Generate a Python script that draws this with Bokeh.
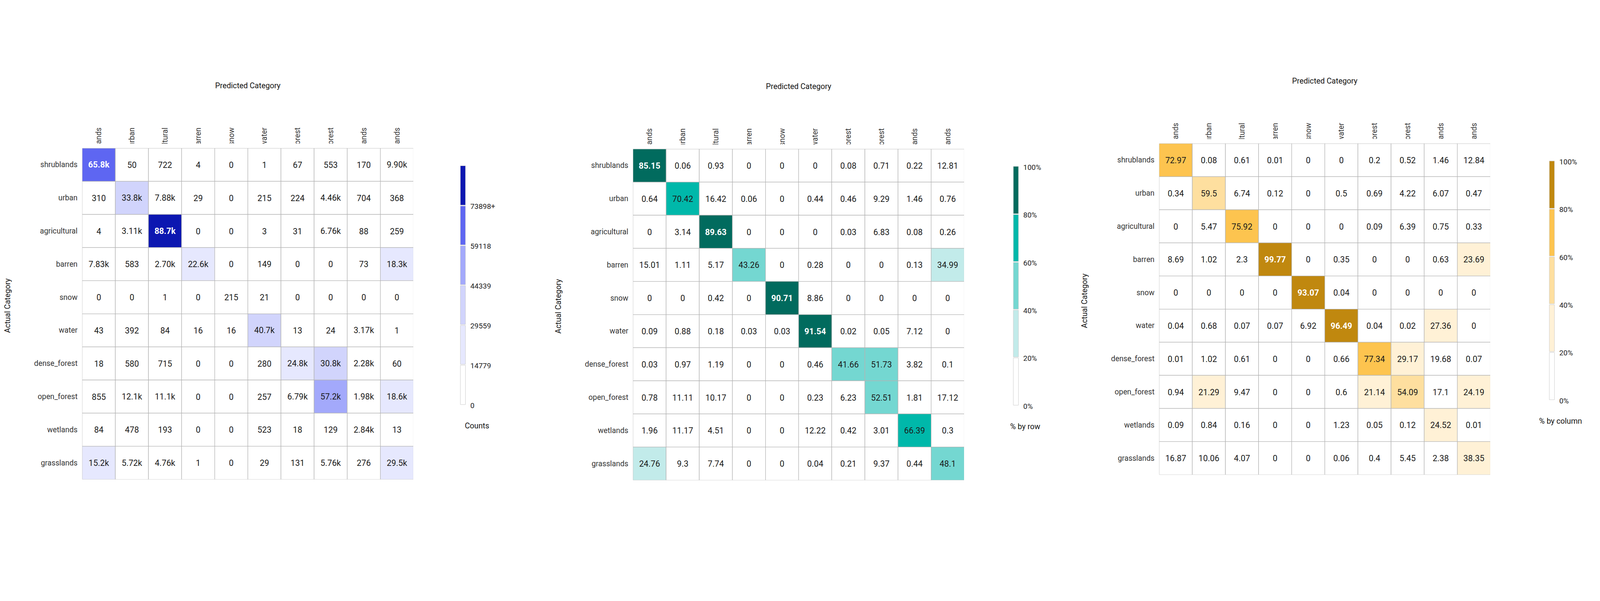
import numpy as np
from bokeh.plotting import figure
from bokeh.models import ColumnDataSource, FactorRange, Range1d
from bokeh.layouts import row, column
from bokeh.transform import linear_cmap
from bokeh.core.properties import value
from bokeh.embed import file_html
from bokeh.resources import INLINE

# ---------------- data ----------------
categories = ["shrublands", "urban", "agricultural", "barren", "snow", "water",
              "dense_forest", "open_forest", "wetlands", "grasslands"]

counts = [
    [65800, 50, 722, 4, 0, 1, 67, 553, 170, 9900],
    [310, 33800, 7880, 29, 0, 215, 224, 4460, 704, 368],
    [4, 3110, 88678, 0, 0, 3, 31, 6760, 88, 259],
    [7830, 583, 2700, 22600, 0, 149, 0, 0, 73, 18300],
    [0, 0, 1, 0, 215, 21, 0, 0, 0, 0],
    [43, 392, 84, 16, 16, 40700, 13, 24, 3170, 1],
    [18, 580, 715, 0, 0, 280, 24800, 30800, 2280, 60],
    [855, 12100, 11100, 0, 0, 257, 6790, 57200, 1980, 18600],
    [84, 478, 193, 0, 0, 523, 18, 129, 2840, 13],
    [15200, 5720, 4760, 1, 0, 29, 131, 5760, 276, 29500],
]

row_pct = [
    [85.15, 0.06, 0.93, 0, 0, 0, 0.08, 0.71, 0.22, 12.81],
    [0.64, 70.42, 16.42, 0.06, 0, 0.44, 0.46, 9.29, 1.46, 0.76],
    [0, 3.14, 89.63, 0, 0, 0, 0.03, 6.83, 0.08, 0.26],
    [15.01, 1.11, 5.17, 43.26, 0, 0.28, 0, 0, 0.13, 34.99],
    [0, 0, 0.42, 0, 90.71, 8.86, 0, 0, 0, 0],
    [0.09, 0.88, 0.18, 0.03, 0.03, 91.54, 0.02, 0.05, 7.12, 0],
    [0.03, 0.97, 1.19, 0, 0, 0.46, 41.66, 51.73, 3.82, 0.1],
    [0.78, 11.11, 10.17, 0, 0, 0.23, 6.23, 52.51, 1.81, 17.12],
    [1.96, 11.17, 4.51, 0, 0, 12.22, 0.42, 3.01, 66.39, 0.3],
    [24.76, 9.3, 7.74, 0, 0, 0.04, 0.21, 9.37, 0.44, 48.1],
]

col_pct = [
    [72.97, 0.08, 0.61, 0.01, 0, 0, 0.2, 0.52, 1.46, 12.84],
    [0.34, 59.5, 6.74, 0.12, 0, 0.5, 0.69, 4.22, 6.07, 0.47],
    [0, 5.47, 75.92, 0, 0, 0, 0.09, 6.39, 0.75, 0.33],
    [8.69, 1.02, 2.3, 99.77, 0, 0.35, 0, 0, 0.63, 23.69],
    [0, 0, 0, 0, 93.07, 0.04, 0, 0, 0, 0],
    [0.04, 0.68, 0.07, 0.07, 6.92, 96.49, 0.04, 0.02, 27.36, 0],
    [0.01, 1.02, 0.61, 0, 0, 0.66, 77.34, 29.17, 19.68, 0.07],
    [0.94, 21.29, 9.47, 0, 0, 0.6, 21.14, 54.09, 17.1, 24.19],
    [0.09, 0.84, 0.16, 0, 0, 1.23, 0.05, 0.12, 24.52, 0.01],
    [16.87, 10.06, 4.07, 0, 0, 0.06, 0.4, 5.45, 2.38, 38.35],
]

counts_palette = ["#ffffff", "#e6e8fe", "#d1d4fc", "#a3a9fb", "#5e66f2", "#0c17b1"]
row_palette = ["#ffffff", "#c2ebea", "#74d7d1", "#00b8aa", "#016b5e"]
col_palette = ["#ffffff", "#fff1d6", "#fedf9f", "#fdc44f", "#c0880f"]

counts_title = "Counts"
row_title = "% by row"
col_title = "% by column"

FONT = "Roboto"
Z = 1.22                      # photographed pixels per CSS pixel


def cz(v):
    return v / Z


S = round(cz(1034))           # grid size (CSS px)
BL = round(cz(200))           # room for row labels
LW = round(cz(58))            # width of the "Actual Category" strip
PAGE_RIGHT = int(5002 / Z) - 8

F_CELL = f"{cz(26):.1f}px"
F_LAB = f"{cz(23.5):.1f}px"
F_TITLE = f"{cz(24):.1f}px"
F_CB = f"{cz(23):.1f}px"


def fmt_count(v):
    if v >= 1000:
        return f"{v / 1000:#.3g}k"
    return str(int(v))


def fmt_pct(v):
    return f"{round(v, 2):g}"


def base_fig(**kw):
    f = figure(toolbar_location=None, output_backend="svg", min_border=0,
               x_axis_location=None, y_axis_location=None,
               outline_line_color=None, background_fill_color="white",
               border_fill_color="white", **kw)
    f.grid.visible = False
    return f


def make_chart(matrix, fmt, palette, n_white, high, cb_labels, cb_title,
               Lp, Tp, start, end, cb_title_xp, bar_left_p):
    n = len(palette)
    gl = round(cz(Lp))
    gt = round(cz(Tp))
    hdr_h = gt - 8
    bot = round(cz(20))
    main_h = S + bot
    H = hdr_h + main_h
    col_w = BL + S
    lab_w = gl - BL - start

    # --- left strip ("Actual Category")
    lf = base_fig(width=lab_w, height=H, x_range=Range1d(0, lab_w), y_range=Range1d(0, H))
    lf.text(x=[cz(Lp - 233) - start], y=[H - (cz(Tp + 492) - 8)], text=["Actual Category"],
            angle=np.pi / 2, text_align="center", text_baseline="middle",
            text_font_size=F_TITLE, text_font=value(FONT), text_color="#111111")

    xr = FactorRange(factors=list(categories))

    # --- header with clipped column labels
    clip = round(cz(15))
    hf = base_fig(width=col_w, height=hdr_h, x_range=xr, y_range=Range1d(0, hdr_h - clip))
    hf.min_border_left = BL
    hf.min_border_bottom = clip
    hf.text(x=categories, y=[cz(50)] * len(categories), text=categories, angle=np.pi / 2,
            text_align="right", text_baseline="middle", text_font_size=F_LAB,
            text_font=value(FONT), text_color="#333333")
    hf.text(x=[len(categories) / 2], y=[cz(181)], text=["Predicted Category"],
            text_align="center", text_baseline="middle", text_font_size=F_TITLE,
            text_font=value(FONT), text_color="#111111")

    # --- main matrix
    xs, ys, vs, labels, styles = [], [], [], [], []
    for i, a in enumerate(categories):
        for j, p in enumerate(categories):
            v = matrix[i][j]
            xs.append(p)
            ys.append(a)
            vs.append(v)
            labels.append(fmt(v))
            b = min(int(v / high * n), n - 1)
            styles.append("bold" if b >= n - n_white else "normal")
    src = ColumnDataSource(dict(x=xs, y=ys, v=vs, label=labels, style=styles))

    mf = figure(width=col_w, height=main_h, x_range=xr,
                y_range=FactorRange(factors=list(reversed(categories))),
                toolbar_location=None, output_backend="svg", min_border=0,
                x_axis_location=None, y_axis_location="left",
                outline_line_color=None, background_fill_color="white",
                border_fill_color="white")
    mf.min_border_left = BL
    mf.min_border_bottom = bot
    mf.grid.visible = False
    ax = mf.yaxis[0]
    ax.axis_line_color = None
    ax.major_tick_line_color = None
    ax.minor_tick_line_color = None
    ax.major_tick_out = 0
    ax.major_tick_in = 0
    ax.major_label_standoff = round(cz(15))
    ax.major_label_text_font = FONT
    ax.major_label_text_font_size = F_LAB
    ax.major_label_text_color = "#333333"

    mf.rect(x="x", y="y", width=1, height=1, source=src,
            fill_color=linear_cmap("v", palette, 0, high),
            line_color="#b4b4b4", line_width=1.25)
    text_pal = ["#1b1b1b"] * (n - n_white) + ["#ffffff"] * n_white
    mf.text(x="x", y="y", text="label", source=src, text_align="center",
            text_baseline="middle", text_font_size=F_CELL, text_font=value(FONT),
            text_color=linear_cmap("v", text_pal, 0, high), text_font_style="style")

    # --- colour bar strip
    x0 = gl + S
    cbw = end - x0
    Bt, Bb = cz(Tp + 55), cz(Tp + 801)
    vpp = high / (Bb - Bt)
    y0 = -((8 + H) - Bb) * vpp
    y1 = high + (Bt - 8) * vpp
    cf = base_fig(width=cbw, height=H, x_range=Range1d(x0, end), y_range=Range1d(y0, y1))
    edges = np.linspace(0, high, n + 1)
    g = 1.2 * vpp
    bottoms = [edges[k] + (g if k > 0 else 0) for k in range(n)]
    tops = [edges[k + 1] - (g if k < n - 1 else 0) for k in range(n)]
    bl = cz(bar_left_p)
    bw = cz(16)
    cf.quad(left=[bl] * n, right=[bl + bw] * n, bottom=bottoms, top=tops,
            fill_color=palette, line_color="#cccccc", line_width=1)
    cf.text(x=[bl + bw + cz(15)] * len(cb_labels),
            y=[edges[k] - cz(3) * vpp for k in range(len(cb_labels))],
            text=cb_labels, text_align="left", text_baseline="middle",
            text_font_size=F_CB, text_font=value(FONT), text_color="#222222")
    cf.text(x=[cz(cb_title_xp)], y=[-cz(67) * vpp], text=[cb_title], text_align="center",
            text_baseline="middle", text_font_size=F_TITLE, text_font=value(FONT),
            text_color="#111111")

    return row(lf, column(hf, mf), cf)


high_c = max(max(r) for r in counts)
edges_c = np.linspace(0, high_c, 7)
c_labels = [str(int(np.floor(e))) for e in edges_c[:6]]
c_labels[-1] = c_labels[-1] + "+"
pct_labels = [f"{int(round(e))}%" for e in np.linspace(0, 100, 6)]

Lp = [266, 1986, 3630]
Tp = [472, 474, 457]
starts = [8] + [round(cz(x)) - BL - LW for x in Lp[1:]]
ends = starts[1:] + [PAGE_RIGHT]

ch1 = make_chart(counts, fmt_count, counts_palette, 2, high_c, c_labels, counts_title,
                 Lp[0], Tp[0], starts[0], ends[0], 1499, 1447)
ch2 = make_chart(row_pct, fmt_pct, row_palette, 1, 100, pct_labels, row_title,
                 Lp[1], Tp[1], starts[1], ends[1], 3211, 3174)
ch3 = make_chart(col_pct, fmt_pct, col_palette, 1, 100, pct_labels, col_title,
                 Lp[2], Tp[2], starts[2], ends[2], 4883, 4848)

p = row(ch1, ch2, ch3)
open("out.html", "w").write(file_html(p, INLINE))
